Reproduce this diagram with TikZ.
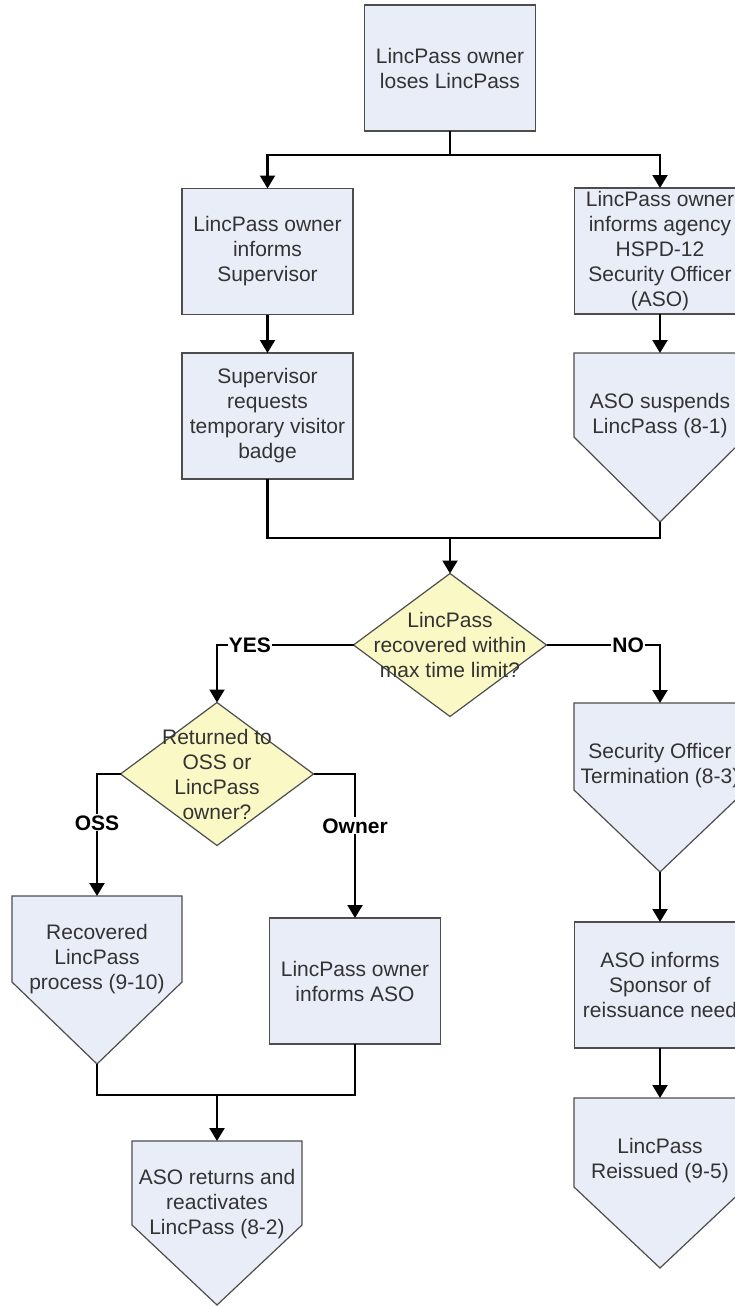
\documentclass[tikz,border=0pt]{standalone}
\usepackage{fontspec}
\setmainfont{Liberation Sans}
\usetikzlibrary{shapes.geometric,arrows.meta}
\definecolor{boxfill}{HTML}{E8EDF7}
\definecolor{askfill}{HTML}{FAF8C4}
\definecolor{edgegray}{HTML}{4D4D4D}
\definecolor{textgray}{HTML}{333333}
\begin{document}
\begin{tikzpicture}[x=1pt, y=-1pt,
    every node/.style={font=\fontsize{21}{25}\selectfont, text=textgray, align=center, outer sep=0pt, inner sep=1pt},
    box/.style={draw=edgegray, fill=boxfill, line width=1.2pt, minimum width=171pt, minimum height=126pt},
    penta/.style={draw=edgegray, fill=boxfill, line width=1.2pt, line join=miter},
    ptext/.style={minimum width=171pt, minimum height=126pt, anchor=north},
    ask/.style={diamond, draw=edgegray, fill=askfill, line width=1.2pt, inner sep=-30pt, minimum width=193pt, minimum height=143pt},
    conn/.style={line width=2.2pt},
    arr/.style={conn, -{Triangle[length=13pt, width=15pt]}},
    lbl/.style={fill=white, text=black, font=\bfseries\fontsize{21}{25}\selectfont, inner sep=1pt}]
    \useasboundingbox (0,0) rectangle (735,1306);

    \node[box] (lose) at (450,68) {LincPass owner\\loses LincPass};
    \coordinate (split) at (450,155);

    \node[box] (tell) at (267.5,251.5) {LincPass owner\\informs\\Supervisor};
    \node[box] (badge) at (267.5,416) {Supervisor\\requests\\temporary visitor\\badge};

    \node[box] (notify) at (660,251) {LincPass owner\\informs agency\\HSPD-12\\Security Officer\\(ASO)};
    \draw[penta] (574,353) -- (746,353) -- (746,437) -- (660,522) -- (574,437) -- cycle;
    \node[ptext] (suspend) at (660,353) {ASO suspends\\LincPass (8-1)};
    \coordinate (suspend-tip) at (660,522);

    \coordinate (merge) at (450,538);
    \node[ask] (found) at (450,645) {LincPass\\recovered within\\max time limit?};
    \node[ask] (where) at (217,774) {Returned to\\OSS or\\LincPass\\owner?};

    \draw[penta] (12,896) -- (182,896) -- (182,982) -- (97,1064) -- (12,982) -- cycle;
    \node[ptext] (recover) at (97,896) {Recovered\\LincPass\\process (9-10)};
    \coordinate (recover-tip) at (97,1064);
    \node[box] (owninf) at (355,981) {LincPass owner\\informs ASO};

    \coordinate (merge2) at (217,1095);
    \draw[penta] (132,1141) -- (302,1141) -- (302,1225) -- (217,1305) -- (132,1225) -- cycle;
    \node[ptext] (back) at (217,1141) {ASO returns and\\reactivates\\LincPass (8-2)};

    \draw[penta] (574,703) -- (746,703) -- (746,790) -- (660,872) -- (574,790) -- cycle;
    \node[ptext] (stop) at (660,703) {Security Officer\\Termination (8-3)};
    \coordinate (stop-tip) at (660,872);
    \node[box] (sponsor) at (660,985) {ASO informs\\Sponsor of\\reissuance need};
    \draw[penta] (574,1098) -- (746,1098) -- (746,1187) -- (660,1268) -- (574,1187) -- cycle;
    \node[ptext] (reissue) at (660,1098) {LincPass\\Reissued (9-5)};

    \draw[conn] (lose.south) -- (split);
    \draw[arr] (split) -| (tell.north);
    \draw[arr] (split) -| (notify.north);
    \draw[arr] (tell.south) -- (badge.north);
    \draw[arr] (notify.south) -- (suspend.north);
    \draw[conn] (badge.south) |- (merge);
    \draw[conn] (suspend-tip) |- (merge);
    \draw[arr] (merge) -- (found.north);
    \draw[arr] (found.west) -| node[lbl, pos=0.38] {YES} (where.north);
    \draw[arr] (found.east) -| node[lbl, pos=0.36] {NO} (stop.north);
    \draw[arr] (where.west) -| node[lbl, pos=0.70] {OSS} (recover.north);
    \draw[arr] (where.east) -| node[lbl, pos=0.68] {Owner} (owninf.north);
    \draw[conn] (recover-tip) |- (merge2);
    \draw[conn] (owninf.south) |- (merge2);
    \draw[arr] (merge2) -- (back.north);
    \draw[arr] (stop-tip) -- (sponsor.north);
    \draw[arr] (sponsor.south) -- (reissue.north);
\end{tikzpicture}
\end{document}
